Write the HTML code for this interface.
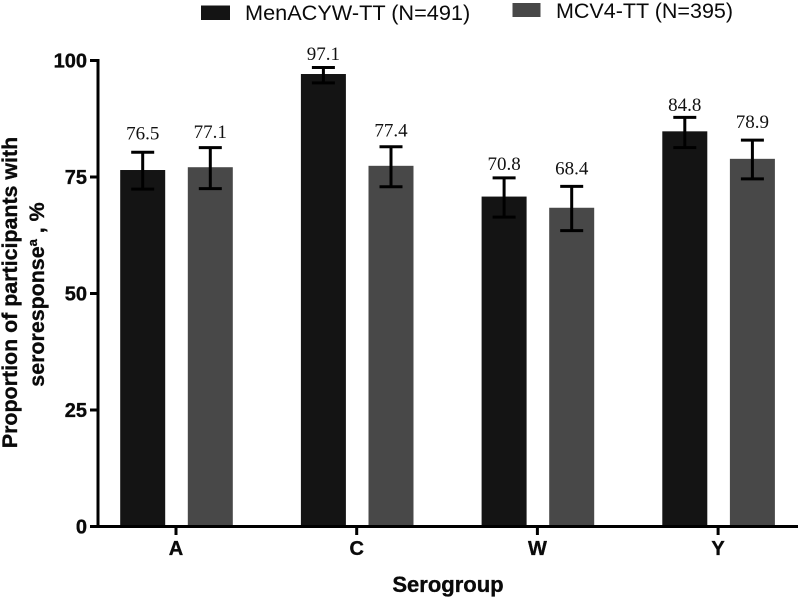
<!DOCTYPE html>
<html lang="en">
<head>
<meta charset="utf-8">
<title>Seroresponse by serogroup</title>
<style>
html,body{margin:0;padding:0;background:#fff;width:800px;height:598px;overflow:hidden}
svg{display:block}
text{font-family:"Liberation Sans",sans-serif;fill:#0a0a0a}
.bold{font-weight:700;stroke:#0a0a0a;stroke-width:.35px}
.val{font-family:"Liberation Serif",serif;font-size:19px;fill:#111}
</style>
</head>
<body>
<svg id="chart" width="800" height="598" viewBox="0 0 800 598" xmlns="http://www.w3.org/2000/svg">
  <g>
    <rect x="201" y="5.5" width="29" height="14.5" fill="#141414"/>
    <text x="245" y="20" font-size="21.7">MenACYW-TT (N=491)</text>
    <rect x="512.5" y="3" width="28" height="14" fill="#484848"/>
    <text x="556" y="18" font-size="21.5">MCV4-TT (N=395)</text>
  </g>
  <g id="marks"></g>
  <g id="axes"></g>
  <g font-size="21.4">
    <text class="bold" transform="translate(17,292.5) rotate(-90)" text-anchor="middle">Proportion of participants with</text>
    <text class="bold" transform="translate(44,294.5) rotate(-90)" text-anchor="middle">seroresponse<tspan font-size="13" dy="-7">a</tspan><tspan dy="7"> , %</tspan></text>
  </g>
  <text class="bold" x="448" y="592" font-size="22" text-anchor="middle">Serogroup</text>
</svg>
<script>
const categories = ['A', 'C', 'W', 'Y'];
const seriesNames = ['MenACYW-TT', 'MCV4-TT'];
const menacywValues = [76.5, 97.1, 70.8, 84.8];
const menacywLow = [72.4, 95.2, 66.4, 81.3];
const menacywHigh = [80.3, 98.5, 74.8, 87.8];
const mcv4Values = [77.1, 77.4, 68.4, 78.9];
const mcv4Low = [72.5, 72.9, 63.5, 74.6];
const mcv4High = [81.3, 81.5, 73.0, 82.9];
const menacywLabelClearance = [2.7, 1.6, 1.7, 1.4];
const mcv4LabelClearance = [2.1, 2.2, 2.5, 2.6];
const yTicks = [0, 25, 50, 75, 100];

const svgNS = 'http://www.w3.org/2000/svg';
const marks = document.getElementById('marks');
const axes = document.getElementById('axes');

function yScale(v) { return 526.5 - v * 4.66; }
function xCategory(i) { return 176 + i * 180.7; }
function make(parent, tag, attrs, txt) {
  const el = document.createElementNS(svgNS, tag);
  for (const k in attrs) el.setAttribute(k, attrs[k]);
  if (txt !== undefined) el.textContent = txt;
  parent.appendChild(el);
  return el;
}

const series = [
  { key: 'menacyw', values: menacywValues, low: menacywLow, high: menacywHigh, clear: menacywLabelClearance, fill: '#141414', offset: -33.3 },
  { key: 'mcv4', values: mcv4Values, low: mcv4Low, high: mcv4High, clear: mcv4LabelClearance, fill: '#484848', offset: 34.3 }
];

series.forEach(function (s) {
  categories.forEach(function (cat, i) {
    const cx = xCategory(i) + s.offset;
    const top = yScale(s.values[i]);
    const bar = make(marks, 'rect', { x: cx - 22.5, y: top, width: 45, height: yScale(0) - top, fill: s.fill });
    
    

    const hi = yScale(s.high[i]);
    const lo = yScale(s.low[i]);
    const err = make(marks, 'path', {
      d: 'M' + (cx - 11.5) + ' ' + hi + 'H' + (cx + 11.5) + 'M' + cx + ' ' + hi + 'V' + lo + 'M' + (cx - 11.5) + ' ' + lo + 'H' + (cx + 11.5),
      fill: 'none', stroke: '#000', 'stroke-width': 3
    });
    
    

    const label = make(marks, 'text', {
      x: cx, y: yScale(s.high[i] + s.clear[i]), 'text-anchor': 'middle', class: 'val'
    }, s.values[i].toFixed(1));
    
    
  });
});

const yAxisLine = make(axes, 'line', { x1: 98, x2: 98, y1: yScale(100) - 1.5, y2: yScale(0) + 1.5, stroke: '#000', 'stroke-width': 3 });



const xAxisLine = make(axes, 'line', { x1: 90, x2: 798, y1: yScale(0), y2: yScale(0), stroke: '#000', 'stroke-width': 3 });



yTicks.forEach(function (t) {
  const y = yScale(t);
  const tick = make(axes, 'line', { x1: 90, x2: 98, y1: y, y2: y, stroke: '#000', 'stroke-width': 3 });
  
  
  const lab = make(axes, 'text', { x: 87, y: y + 7, 'text-anchor': 'end', 'font-size': 20, class: 'bold' }, String(t));
  
  
});

categories.forEach(function (cat, i) {
  const x = xCategory(i);
  const tick = make(axes, 'line', { x1: x, x2: x, y1: yScale(0), y2: yScale(0) + 8.5, stroke: '#000', 'stroke-width': 3 });
  
  
  const lab = make(axes, 'text', { x: x, y: 555, 'text-anchor': 'middle', 'font-size': 20, class: 'bold' }, cat);
  
  
});
</script>
</body>
</html>
